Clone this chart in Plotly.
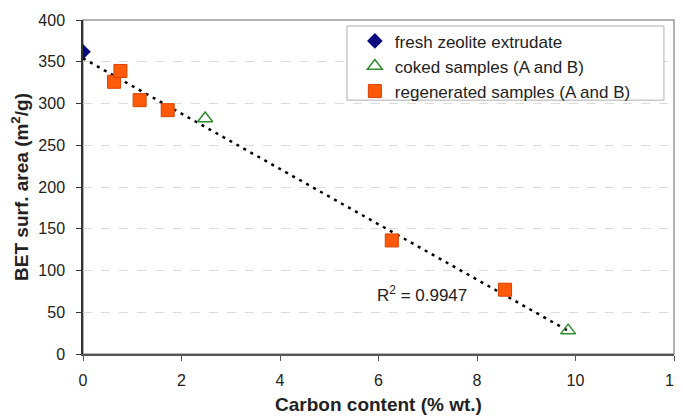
import numpy as np
import plotly.graph_objects as go

fresh_x = [0.0]
fresh_y = [362]
coked_x = [2.48, 9.85]
coked_y = [282, 28]
regen_x = [0.63, 0.76, 1.15, 1.72, 6.27, 8.57]
regen_y = [326, 339, 304, 292, 136, 77]

x_ticks = [0, 2, 4, 6, 8, 10, 12]
y_ticks = [0, 50, 100, 150, 200, 250, 300, 350, 400]

all_x = np.array(fresh_x + coked_x + regen_x)
all_y = np.array(fresh_y + coked_y + regen_y)
slope, intercept = np.polyfit(all_x, all_y, 1)
fit_x = np.array([0.0, max(all_x)])
fit_y = slope * fit_x + intercept

font = "Liberation Sans, Arial, sans-serif"

fig = go.Figure()
fig.add_trace(go.Scatter(x=fit_x, y=fit_y, mode="lines", showlegend=False,
                         line=dict(color="black", width=2.5, dash="3px,5px"), hoverinfo="skip"))
fig.add_trace(go.Scatter(x=fresh_x, y=fresh_y, mode="markers", name="fresh zeolite extrudate",
                         marker=dict(symbol="diamond", size=12, color="#0a0a80")))
fig.add_trace(go.Scatter(x=coked_x, y=coked_y, mode="markers", name="coked samples (A and B)",
                         marker=dict(symbol="triangle-up-open", size=13, color="#2e8b2e",
                                     line=dict(width=1.5, color="#2e8b2e"))))
fig.add_trace(go.Scatter(x=regen_x, y=regen_y, mode="markers", name="regenerated samples (A and B)",
                         marker=dict(symbol="square", size=13, color="#ff5a0a",
                                     line=dict(width=1, color="#d84000"))))

fig.add_annotation(x=6.89, y=72, text="R<sup>2</sup> = 0.9947", showarrow=False,
                   font=dict(family=font, size=17, color="#222"))

# plot frame
fig.add_shape(type="rect", xref="paper", yref="paper", x0=0, x1=1, y0=0, y1=1,
              line=dict(color="#9a9a9a", width=1.5), layer="below")
# legend frame (wider padding than plotly's own legend box)
fig.add_shape(type="rect", xref="paper", yref="paper", x0=0.4467, x1=0.983, y0=0.760, y1=0.982,
              line=dict(color="#b0b0b0", width=1), fillcolor="white", layer="above")

# page body has an 8px default margin, so the figure is sized to fit the window
fig.update_layout(
    width=675, height=409,
    margin=dict(l=75, r=9, t=12, b=63),
    paper_bgcolor="white", plot_bgcolor="white",
    font=dict(family=font, size=16, color="#222"),
    legend=dict(x=0.46, y=0.99, xanchor="left", yanchor="top",
                borderwidth=0, bgcolor="rgba(0,0,0,0)",
                font=dict(size=17), itemwidth=30, tracegroupgap=0),
    xaxis=dict(range=[0, 12], tickvals=x_ticks, showgrid=False, zeroline=False,
               showline=True, linecolor="#555", linewidth=1.5, mirror=False,
               ticks="outside", ticklen=5, tickcolor="#555", automargin=False,
               ticklabeloverflow="allow", ticklabelstandoff=6,
               tickfont=dict(size=16),
               title=dict(text="<b>Carbon content (% wt.)</b>", font=dict(size=19), standoff=10)),
    yaxis=dict(range=[0, 400], tickvals=y_ticks, showgrid=True, gridcolor="#dcdcdc",
               griddash="dash", gridwidth=1, zeroline=False,
               showline=True, linecolor="#333", linewidth=1.5, mirror=False,
               ticks="outside", ticklen=5, tickcolor="#333", automargin=False,
               ticklabelstandoff=8, tickfont=dict(size=16),
               title=dict(text="<b>BET surf. area (m<sup>2</sup>/g)</b>", font=dict(size=19), standoff=16)),
)

fig.write_html("out.html")
